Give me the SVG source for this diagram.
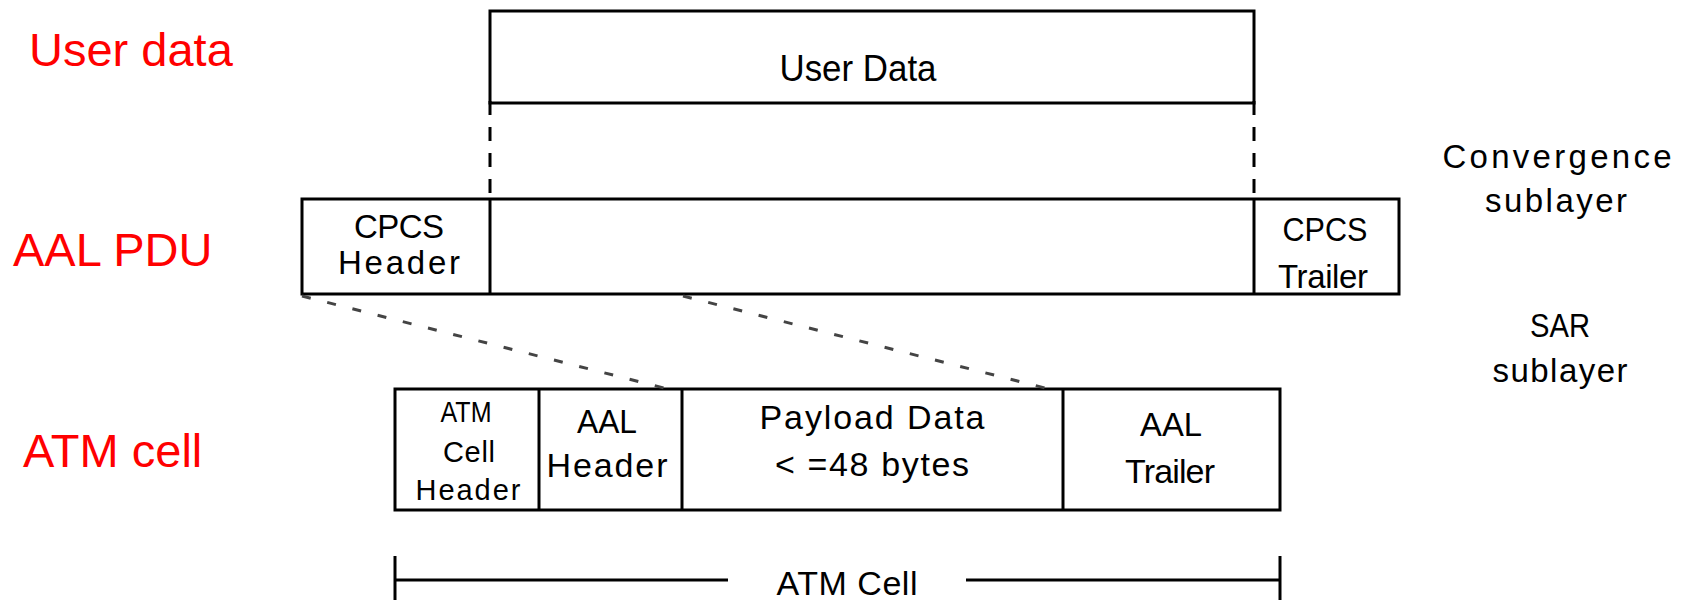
<svg xmlns="http://www.w3.org/2000/svg" width="1688" height="600" viewBox="0 0 1688 600">
<style>
.box{fill:#fff;stroke:#000;stroke-width:3}
.div{stroke:#000;stroke-width:3}
.t{font-family:"Liberation Sans",Arial,sans-serif;fill:#000;text-anchor:middle}
.red{font-family:"Liberation Sans",Arial,sans-serif;fill:#ff0000;font-size:47px}
.vdash{stroke:#000;stroke-width:3;stroke-dasharray:14 12;fill:none}
.ddot{stroke:#444;stroke-width:3;stroke-dasharray:9 17;fill:none}
.br{stroke:#000;stroke-width:3;fill:none}
</style>
<rect width="1688" height="600" fill="#fff"/>
<g id="labels">
<text class="red" x="29" y="66">User data</text>
<text class="red" x="13" y="266">AAL PDU</text>
<text class="red" x="23" y="467">ATM cell</text>
</g>
<g id="user-data">
<rect class="box" x="490" y="11" width="764" height="92"/>
<text class="t" x="858" y="81" font-size="37" textLength="157" lengthAdjust="spacingAndGlyphs">User Data</text>
</g>
<g id="aal-pdu">
<rect class="box" x="302" y="199" width="1097" height="95"/>
<line class="div" x1="490" y1="199" x2="490" y2="294"/>
<line class="div" x1="1254" y1="199" x2="1254" y2="294"/>
<text class="t" x="399" y="238" font-size="33" textLength="90" lengthAdjust="spacing">CPCS</text>
<text class="t" x="399" y="274" font-size="33" textLength="122" lengthAdjust="spacing">Header</text>
<text class="t" x="1325" y="241" font-size="33" textLength="85" lengthAdjust="spacingAndGlyphs">CPCS</text>
<text class="t" x="1323" y="288" font-size="33" textLength="90" lengthAdjust="spacing">Trailer</text>
</g>
<g id="sublayers">
<text class="t" x="1557" y="168" font-size="33" textLength="229" lengthAdjust="spacing">Convergence</text>
<text class="t" x="1556" y="212" font-size="33" textLength="142" lengthAdjust="spacing">sublayer</text>
<text class="t" x="1560" y="337" font-size="33" textLength="60" lengthAdjust="spacingAndGlyphs">SAR</text>
<text class="t" x="1560" y="382" font-size="33" textLength="135" lengthAdjust="spacing">sublayer</text>
</g>
<g id="atm-cell">
<rect class="box" x="395" y="389" width="885" height="121"/>
<line class="div" x1="539" y1="389" x2="539" y2="510"/>
<line class="div" x1="682" y1="389" x2="682" y2="510"/>
<line class="div" x1="1063" y1="389" x2="1063" y2="510"/>
<text class="t" x="466" y="422" font-size="29" textLength="51" lengthAdjust="spacingAndGlyphs">ATM</text>
<text class="t" x="469" y="462" font-size="29" textLength="52" lengthAdjust="spacing">Cell</text>
<text class="t" x="468" y="500" font-size="29" textLength="105" lengthAdjust="spacing">Header</text>
<text class="t" x="607" y="433" font-size="34" textLength="60" lengthAdjust="spacingAndGlyphs">AAL</text>
<text class="t" x="607" y="477" font-size="34" textLength="121" lengthAdjust="spacing">Header</text>
<text class="t" x="872" y="429" font-size="34" textLength="225" lengthAdjust="spacing">Payload Data</text>
<text class="t" x="872" y="476" font-size="34" textLength="194" lengthAdjust="spacing">&lt; =48 bytes</text>
<text class="t" x="1171" y="436" font-size="34" textLength="62" lengthAdjust="spacingAndGlyphs">AAL</text>
<text class="t" x="1170" y="483" font-size="34" textLength="90" lengthAdjust="spacing">Trailer</text>
</g>
<g id="connectors">
<line class="vdash" x1="490" y1="101" x2="490" y2="199"/>
<line class="vdash" x1="1254" y1="101" x2="1254" y2="199"/>
<line class="ddot" x1="302" y1="296" x2="664" y2="388"/>
<line class="ddot" x1="683" y1="296" x2="1045" y2="388"/>
</g>
<g id="atm-cell-span">
<line class="br" x1="395" y1="556" x2="395" y2="600"/>
<line class="br" x1="1280" y1="556" x2="1280" y2="600"/>
<line class="br" x1="395" y1="580" x2="728" y2="580"/>
<line class="br" x1="966" y1="580" x2="1280" y2="580"/>
<text class="t" x="847" y="595" font-size="34" textLength="141" lengthAdjust="spacing">ATM Cell</text>
</g>
</svg>
